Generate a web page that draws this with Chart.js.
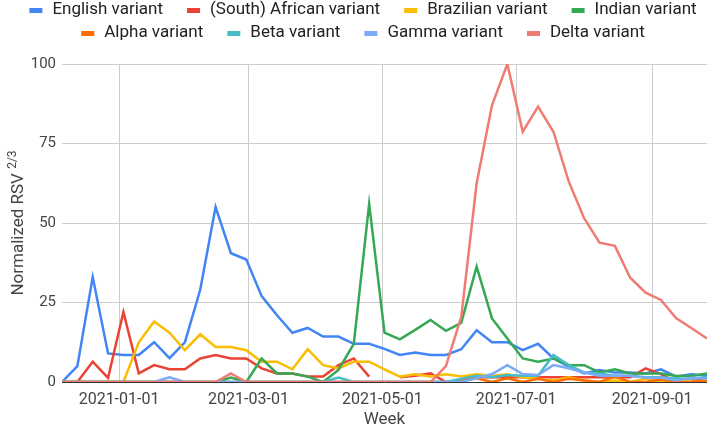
<!DOCTYPE html>
<html>
<head>
<meta charset="utf-8">
<script src="https://cdn.jsdelivr.net/npm/chart.js@4/dist/chart.umd.min.js"></script>
<style>
  html, body { margin: 0; padding: 0; background: #fff; }
  #wrap { width: 708px; height: 434px; position: relative; }
</style>
</head>
<body>
<div id="wrap"><canvas id="rsvChart"></canvas></div>
<script>
// weekly samples (week start dates)
const weeks = [
  '2020-12-06', '2020-12-13', '2020-12-20', '2020-12-27', '2021-01-03', '2021-01-10', '2021-01-17',
  '2021-01-24', '2021-01-31', '2021-02-07', '2021-02-14', '2021-02-21', '2021-02-28', '2021-03-07',
  '2021-03-14', '2021-03-21', '2021-03-28', '2021-04-04', '2021-04-11', '2021-04-18', '2021-04-25',
  '2021-05-02', '2021-05-09', '2021-05-16', '2021-05-23', '2021-05-30', '2021-06-06', '2021-06-13',
  '2021-06-20', '2021-06-27', '2021-07-04', '2021-07-11', '2021-07-18', '2021-07-25', '2021-08-01',
  '2021-08-08', '2021-08-15', '2021-08-22', '2021-08-29', '2021-09-05', '2021-09-12', '2021-09-19',
  '2021-09-26'
];
const xTickLabels = ['2021-01-01', '2021-03-01', '2021-05-01', '2021-07-01', '2021-09-01'];
const yTicks = [0, 25, 50, 75, 100];

const seriesNames = [
  'English variant', '(South) African variant', 'Brazilian variant', 'Indian variant',
  'Alpha variant', 'Beta variant', 'Gamma variant', 'Delta variant'
];
const seriesColors = ['#4285F4', '#EA4335', '#FBBC04', '#34A853', '#FF6D01', '#46BDC6', '#7BAAF7', '#F07B72'];

const english = [0, 5, 33, 9, 8.5, 8.5, 12.5, 7.5, 12.5, 29, 55, 40.5, 38.5, 27, 21, 15.5, 17, 14.3, 14.3, 12, 12,
  10.4, 8.5, 9.3, 8.5, 8.5, 10.3, 16.3, 12.5, 12.5, 10, 12, 7.4, 4.8, 2.7, 3.8, 3, 3, 2.7, 4, 1.7, 2.4, 2];
const southAfrican = [0, 0, 6.4, 1.3, 22, 2.7, 5.3, 4, 4, 7.4, 8.5, 7.4, 7.4, 4.3, 2.7, 2.7, 1.7, 1.7, 5.3, 7.4, 1.7,
  null, 1.5, 2, 2.7, 0, 0.5, 1.5, 1.5, 1.5, 1.5, 1.5, 1.5, 1.5, 1.5, 1.5, 1.5, 1.5, 4.3, 2.5, 0, 0, 1.5];
const brazilian = [0, 0, 0, 0, 0, 12.5, 19, 15.5, 10, 15, 11, 11, 10, 6.4, 6.4, 4, 10.3, 5.3, 4.3, 6.4, 6.4,
  4, 1.7, 2.4, 1.7, 2.4, 1.7, 2.4, 2, 2.4, 1.5, 1, 0.5, 1.5, 0.5, 0, 0.5, 0, 1, 0, 0.5, 0, 0];
const indian = [0, 0, 0, 0, 0, 0, 0, 0, 0, 0, 0, 1.4, 0, 7.4, 2.7, 2.7, 1.7, 0, 3.8, 12, 56,
  15.5, 13.4, 16.4, 19.5, 16.1, 18.6, 36.3, 20, 13.7, 7.4, 6.4, 7.4, 5.3, 5.3, 3, 4, 2.7, 2.7, 2.7, 1.9, 1.9, 2.7];
const alpha = [0, 0, 0, 0, 0, 0, 0, 0, 0, 0, 0, 0, 0, 0, 0, 0, 0, 0, 0, 0, 0,
  0, 0, 0, 0, 0, 0.5, 1.2, 0, 1.2, 0, 1, 0, 1, 0.5, 0, 1.7, 0, 0, 0.8, 0, 0, 0.5];
const beta = [0, 0, 0, 0, 0, 0, 0, 0, 0, 0, 0, 0, 0, 0, 0, 0, 0, 0, 1.4, 0, 0,
  0, 0, 0, 0, 0, 1, 2, 1.5, 2.2, 2, 2, 8.5, 5.3, 3, 2.7, 2, 2, 1.5, 1.5, 1, 1, 1.5];
const gamma = [0, 0, 0, 0, 0, 0, 0, 1.5, 0, 0, 0, 0, 0, 0, 0, 0, 0, 0, 0, 0, 0,
  0, 0, 0, 0, 0, 0, 1.2, 2.5, 5.3, 2.5, 2.2, 5.3, 4.3, 3, 2, 2, 2, 1.3, 1.3, 0.5, 1.3, 1];
const delta = [0, 0, 0, 0, 0, 0, 0, 0, 0, 0, 0, 2.7, 0, 0, 0, 0, 0, 0, 0, 0, 0,
  0, 0, 0, 0, 5, 20.5, 62.5, 87, 100, 78.7, 86.6, 78.7, 63, 51.5, 43.8, 42.8, 32.8, 28.1, 25.8, 20, 16.9, 13.7];

const seriesValues = [english, southAfrican, brazilian, indian, alpha, beta, gamma, delta];

const DAY = 86400000;
const dayOf = d => (Date.parse(d) - Date.parse(weeks[0])) / DAY;
const xTickValues = xTickLabels.map(dayOf);

// legend, drawn like the Google Sheets one (two centred rows)
const legendPlugin = {
  id: 'sheetLegend',
  afterDraw(chart) {
    const ctx = chart.ctx;
    const rows = [[0, 1, 2, 3], [4, 5, 6, 7]];
    ctx.save();
    ctx.font = '17px Roboto';
    ctx.textBaseline = 'middle';
    rows.forEach((row, r) => {
      const y = 10 + r * 23;
      const widths = row.map(i => 23 + ctx.measureText(seriesNames[i]).width);
      const total = widths.reduce((a, b) => a + b, 0) + 24 * (row.length - 1);
      let x = 363 - total / 2;
      row.forEach((i, k) => {
        ctx.fillStyle = seriesColors[i];
        ctx.fillRect(x, y - 2, 13, 5);
        ctx.fillStyle = '#222';
        ctx.fillText(seriesNames[i], x + 23, y);
        x += widths[k] + 24;
      });
    });
    ctx.restore();
  }
};

// y title with the 2/3 superscript
const yTitlePlugin = {
  id: 'yTitle',
  afterDraw(chart) {
    const ctx = chart.ctx;
    const area = chart.chartArea;
    const main = 'Normalized RSV ';
    const sup = '2/3';
    ctx.save();
    ctx.translate(19, (area.top + area.bottom) / 2);
    ctx.rotate(-Math.PI / 2);
    ctx.font = '17px Roboto';
    const w1 = ctx.measureText(main).width;
    ctx.font = '12px Roboto';
    const w2 = ctx.measureText(sup).width;
    const x0 = -(w1 + w2) / 2;
    ctx.fillStyle = '#444';
    ctx.textBaseline = 'middle';
    ctx.font = '17px Roboto';
    ctx.fillText(main, x0, 0);
    ctx.font = '12px Roboto';
    ctx.fillText(sup, x0 + w1, -6);
    ctx.restore();
  }
};

const ctx = document.getElementById('rsvChart');
new Chart(ctx, {
  type: 'line',
  data: {
    datasets: seriesValues.map((vals, i) => ({
      label: seriesNames[i],
      data: vals.map((v, k) => ({ x: dayOf(weeks[k]), y: v })),
      borderColor: seriesColors[i],
      backgroundColor: seriesColors[i],
      borderWidth: 2.5,
      pointRadius: 0,
      tension: 0,
      fill: false,
      spanGaps: false,
      order: seriesValues.length - i
    }))
  },
  options: {
    responsive: true, maintainAspectRatio: false,
    animation: false,
    layout: { padding: { top: 64, right: 1, left: 0, bottom: 0 } },
    plugins: { legend: { display: false }, tooltip: { enabled: false } },
    scales: {
      x: {
        type: 'linear',
        min: 0,
        max: dayOf(weeks[weeks.length - 1]),
        afterBuildTicks: s => { s.ticks = xTickValues.map(v => ({ value: v })); },
        afterFit: s => { s.height = 52; },
        grid: { color: '#cccccc', drawTicks: false },
        border: { display: false },
        ticks: {
          padding: 8, color: '#444', font: { family: 'Roboto', size: 16 },
          maxRotation: 0, autoSkip: false,
          callback: v => xTickLabels[xTickValues.indexOf(v)] || ''
        },
        title: { display: true, text: 'Week', color: '#444', font: { family: 'Roboto', size: 17 }, padding: { top: 0, bottom: 4 } }
      },
      y: {
        min: 0, max: 100,
        afterBuildTicks: s => { s.ticks = yTicks.map(v => ({ value: v })); },
        afterFit: s => { s.width = 62; },
        grid: { color: c => (c.tick && c.tick.value === 0 ? '#333333' : '#cccccc'), drawTicks: false },
        border: { display: false },
        ticks: { padding: 6, color: '#444', font: { family: 'Roboto', size: 15 } }
      }
    }
  },
  plugins: [legendPlugin, yTitlePlugin]
});
</script>
</body>
</html>
